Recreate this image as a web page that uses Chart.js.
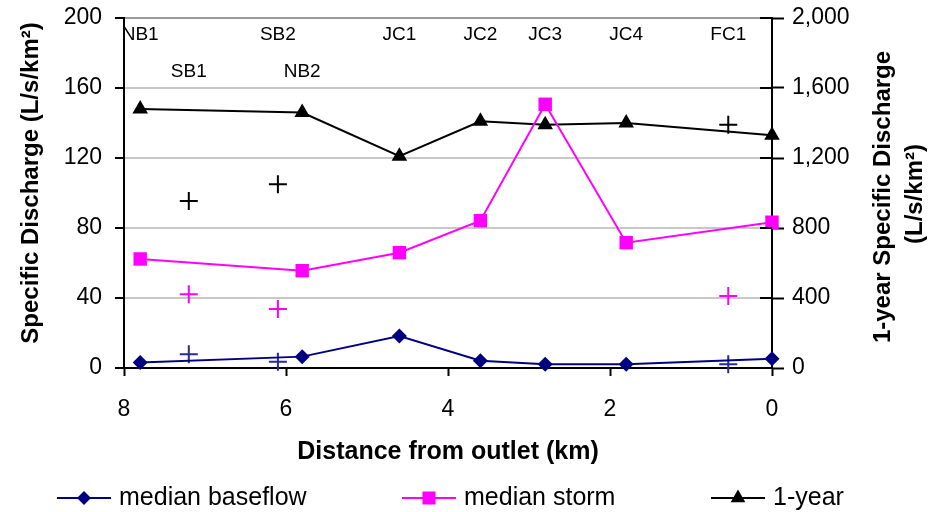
<!DOCTYPE html>
<html><head><meta charset="utf-8">
<script src="https://cdn.jsdelivr.net/npm/chart.js@4.4.0/dist/chart.umd.min.js"></script>
<style>html,body{margin:0;padding:0;background:#fff}#wrap{width:937px;height:512px}</style>
</head><body><div id="wrap"><canvas id="c" width="937" height="512"></canvas></div>
<script>
// ---- data ----
const mainDist = [7.8, 5.8, 4.6, 3.6, 2.8, 1.8, 0];
const baseflow = [3.2, 6.5, 18.3, 4.2, 2.1, 2.1, 5.3];
const storm = [62.3, 55.6, 65.9, 84.2, 150.7, 71.6, 83.3];
const oneYear = [1480, 1460, 1210, 1410, 1390, 1400, 1330];
const tribDist = [7.2, 6.1, 0.54];
const tribBaseflow = [7.8, 3.6, 2.1];
const tribStorm = [42.1, 33.7, 41.1];
const tribOneYear = [955, 1050, 1390];
const labelSites = ['NB1','SB1','SB2','NB2','JC1','JC2','JC3','JC4','FC1'];
const labelDist = [7.8, 7.2, 6.1, 5.8, 4.6, 3.6, 2.8, 1.8, 0.54];
const labelRow = [0, 1, 0, 1, 0, 0, 0, 0, 0];
const xTicks = [0, 2, 4, 6, 8];
const yTicks = [0, 40, 80, 120, 160, 200];
const y2Ticks = [0, 400, 800, 1200, 1600, 2000];
const seriesNames = ['median baseflow', 'median storm', '1-year'];
const xTitle = 'Distance from outlet (km)';
const yTitle = 'Specific Discharge (L/s/km\u00B2)';
const y2Title = ['1-year Specific Discharge', '(L/s/km\u00B2)'];

const FONT = '"Liberation Sans", Arial, sans-serif';
const NAVY = '#000080', MAG = '#ff00ff', BLK = '#000000';
const pts = (xs, ys) => xs.map((x, i) => ({x: x, y: ys[i]}));

function marker(ctx, style, x, y, color) {
  ctx.fillStyle = color;
  ctx.beginPath();
  if (style === 'diamond') { const r = 7; ctx.moveTo(x, y - r); ctx.lineTo(x + r, y); ctx.lineTo(x, y + r); ctx.lineTo(x - r, y); }
  else if (style === 'square') { ctx.rect(x - 6.5, y - 6.5, 13, 13); }
  else { const r = 8.5; ctx.moveTo(x, y - r); ctx.lineTo(x + r * 0.866, y + r / 2); ctx.lineTo(x - r * 0.866, y + r / 2); }
  ctx.closePath(); ctx.fill();
}

const noPad = s => { s.paddingTop = 0; s.paddingBottom = 0; s.paddingLeft = 0; s.paddingRight = 0; };

const annot = {
  id: 'annot',
  afterDraw(chart) {
    const {ctx, chartArea: a, scales: {x, y2}} = chart;
    ctx.save();
    ctx.strokeStyle = '#000'; ctx.lineWidth = 2;
    y2.ticks.forEach(t => { const py = Math.round(y2.getPixelForValue(t.value)); ctx.beginPath(); ctx.moveTo(a.right - 12, py); ctx.lineTo(a.right, py); ctx.stroke(); });
    ctx.fillStyle = '#000'; ctx.textAlign = 'center'; ctx.textBaseline = 'middle';
    ctx.font = '19px ' + FONT;
    labelSites.forEach((s, i) => ctx.fillText(s, x.getPixelForValue(labelDist[i]), a.top + 17 + labelRow[i] * 37));
    ctx.font = 'bold 24px ' + FONT;
    ctx.save(); ctx.translate(31, 183); ctx.rotate(-Math.PI / 2); ctx.fillText(yTitle, 0, 0); ctx.restore();
    ctx.save(); ctx.translate(883, 197); ctx.rotate(-Math.PI / 2); ctx.fillText(y2Title[0], 0, 0); ctx.restore();
    ctx.save(); ctx.translate(915, 194); ctx.rotate(-Math.PI / 2); ctx.fillText(y2Title[1], 0, 0); ctx.restore();
    ctx.font = 'bold 25px ' + FONT;
    ctx.fillText(xTitle, (a.left + a.right) / 2, 452);
    // legend
    const cols = [NAVY, MAG, BLK], styles = ['diamond', 'square', 'triangle'];
    const lx = [57, 402, 711], ly = 498;
    ctx.font = '25px ' + FONT; ctx.textAlign = 'left';
    seriesNames.forEach((n, i) => {
      ctx.strokeStyle = cols[i]; ctx.lineWidth = 2;
      ctx.beginPath(); ctx.moveTo(lx[i], ly); ctx.lineTo(lx[i] + 54, ly); ctx.stroke();
      marker(ctx, styles[i], lx[i] + 27, ly, cols[i]);
      ctx.fillStyle = '#000'; ctx.fillText(n, lx[i] + 62, ly);
    });
    ctx.restore();
  }
};

new Chart(document.getElementById('c'), {
  type: 'scatter',
  data: {
    datasets: [
      {label: seriesNames[0], data: pts(mainDist, baseflow), yAxisID: 'y', showLine: true, clip: false, borderColor: NAVY, backgroundColor: NAVY, borderWidth: 2, pointStyle: 'rectRot', pointRadius: 7.5, pointBorderWidth: 0},
      {label: seriesNames[1], data: pts(mainDist, storm), yAxisID: 'y', showLine: true, clip: false, borderColor: MAG, backgroundColor: MAG, borderWidth: 2, pointStyle: 'rect', pointRadius: 9.5, pointBorderWidth: 0},
      {label: seriesNames[2], data: pts(mainDist, oneYear), yAxisID: 'y2', showLine: true, clip: false, borderColor: BLK, backgroundColor: BLK, borderWidth: 2, pointStyle: 'triangle', pointRadius: 9, pointBorderWidth: 0},
      {label: 'trib baseflow', data: pts(tribDist, tribBaseflow), yAxisID: 'y', showLine: false, clip: false, borderColor: '#2a2a98', pointStyle: 'cross', pointRadius: 9, pointBorderWidth: 2},
      {label: 'trib storm', data: pts(tribDist, tribStorm), yAxisID: 'y', showLine: false, clip: false, borderColor: MAG, pointStyle: 'cross', pointRadius: 9, pointBorderWidth: 2},
      {label: 'trib 1-year', data: pts(tribDist, tribOneYear), yAxisID: 'y2', showLine: false, clip: false, borderColor: BLK, pointStyle: 'cross', pointRadius: 9, pointBorderWidth: 2}
    ]
  },
  options: {
    responsive: false, animation: false,
    layout: {padding: {top: 18, left: 0, right: 0, bottom: 0}},
    plugins: {legend: {display: false}, tooltip: {enabled: false}},
    scales: {
      x: {
        type: 'linear', reverse: true, min: 0, max: 8,
        afterBuildTicks: s => { s.ticks = xTicks.map(v => ({value: v})); },
        ticks: {font: {family: FONT, size: 23}, color: '#000', padding: 20, maxRotation: 0, autoSkip: false},
        grid: {drawOnChartArea: false, drawTicks: true, tickLength: 8, tickWidth: 2, tickColor: '#000'},
        border: {color: '#000', width: 2},
        afterFit: s => { s.height = 144; noPad(s); }
      },
      y: {
        position: 'left', min: 0, max: 200,
        afterBuildTicks: s => { s.ticks = yTicks.map(v => ({value: v})); },
        ticks: {font: {family: FONT, size: 23}, color: '#000', padding: 13},
        grid: {color: c => c.tick && c.tick.value === 0 ? 'rgba(0,0,0,0)' : (c.tick && c.tick.value === 200 ? '#9a9a9a' : '#c8c8c8'), lineWidth: 2, tickLength: 9, tickWidth: 2, tickColor: '#000'},
        border: {color: '#000', width: 2},
        afterFit: s => { s.width = 124; noPad(s); }
      },
      y2: {
        position: 'right', min: 0, max: 2000,
        afterBuildTicks: s => { s.ticks = y2Ticks.map(v => ({value: v})); },
        ticks: {font: {family: FONT, size: 23}, color: '#000', padding: 8, callback: v => v.toLocaleString('en-US')},
        grid: {drawOnChartArea: false, tickLength: 12, tickWidth: 2, tickColor: '#000'},
        border: {color: '#000', width: 2},
        afterFit: s => { s.width = 165; noPad(s); }
      }
    }
  },
  plugins: [annot]
});
</script>
</body></html>
